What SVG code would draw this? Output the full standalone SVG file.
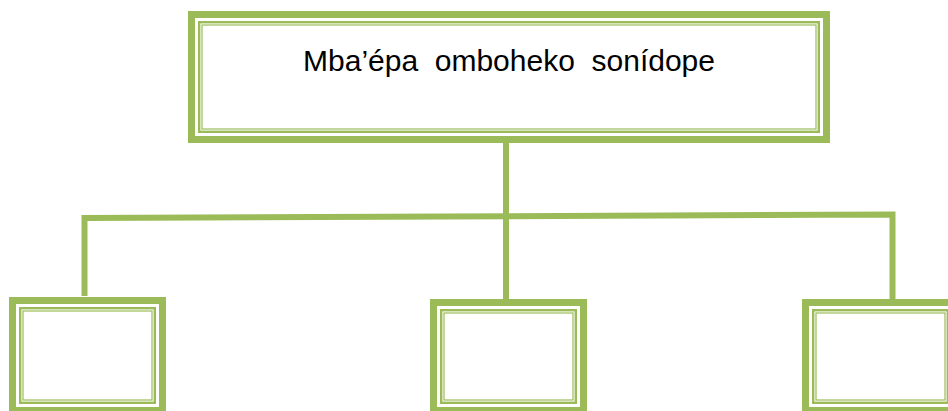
<svg xmlns="http://www.w3.org/2000/svg" width="948" height="411" viewBox="0 0 948 411">
<style>
.thick{fill:none;stroke:#9BBB59;stroke-width:7}
.thin1{fill:none;stroke:#9BBB59;stroke-width:2.4}
.thin2{fill:none;stroke:#9BBB59;stroke-width:1.2}
.conn{fill:none;stroke:#9BBB59;stroke-width:6;stroke-linejoin:miter}
.lbl{font-family:"Liberation Sans",Arial,sans-serif;font-size:30px;fill:#000}
</style>
<rect width="948" height="411" fill="#fff"/>
<g id="connectors">
<path class="conn" d="M506,143 V299"/>
<path class="conn" d="M84.5,296 V218 L892.5,214.5 V299"/>
</g>
<g id="top">
<rect class="thick" x="191.5" y="14.5" width="635" height="125"/>
<rect class="thin1" x="199.2" y="22.2" width="619.6" height="109.6"/>
<rect class="thin2" x="202" y="25" width="614" height="104"/>
<text class="lbl" x="509" y="70.5" text-anchor="middle" xml:space="preserve">Mba’épa  omboheko  sonídope</text>
</g>
<g id="left">
<rect class="thick" x="12.5" y="300.5" width="150" height="110"/>
<rect class="thin1" x="20.2" y="308.2" width="134.6" height="94.6"/>
<rect class="thin2" x="23" y="311" width="129" height="89"/>
</g>
<g id="middle">
<rect class="thick" x="433.5" y="302.5" width="150" height="108"/>
<rect class="thin1" x="441.2" y="310.2" width="134.6" height="92.6"/>
<rect class="thin2" x="444" y="313" width="129" height="87"/>
</g>
<g id="right">
<rect class="thick" x="805.5" y="302.5" width="150" height="108"/>
<rect class="thin1" x="813.2" y="310.2" width="134.6" height="92.6"/>
<rect class="thin2" x="816" y="313" width="129" height="87"/>
</g>
</svg>
